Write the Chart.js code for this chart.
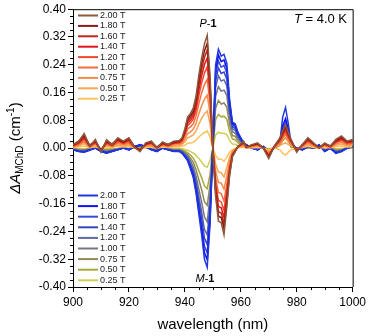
<!DOCTYPE html>
<html>
<head>
<meta charset="utf-8">
<script src="https://cdn.jsdelivr.net/npm/chart.js@4.4.1/dist/chart.umd.min.js"></script>
<style>
  html, body { margin: 0; padding: 0; background: #fff; }
  #chart { display: block; }
</style>
</head>
<body>
<canvas id="chart" width="369" height="336"></canvas>
<script>
// wavelength grid (nm)
const wavelengths = [
  900, 902, 904, 906, 908, 910, 912, 914, 916, 918,
  920, 922, 924, 926, 928, 930, 932, 934, 936, 938,
  939, 940, 941, 942, 943, 944, 945, 946, 947, 948,
  949, 950, 951, 952, 953, 954, 955, 956, 957, 958,
  959, 960, 961, 962, 964, 966, 968, 970, 972, 974,
  975, 976, 977, 978, 980, 982, 984, 986, 988, 990,
  992, 994, 996, 998, 1000
];

const fieldLabels = ['2.00 T', '1.80 T', '1.60 T', '1.40 T', '1.20 T', '1.00 T', '0.75 T', '0.50 T', '0.25 T'];

const xTicks = [900, 920, 940, 960, 980, 1000];
const yTicks = [-0.40, -0.32, -0.24, -0.16, -0.08, 0.00, 0.08, 0.16, 0.24, 0.32, 0.40];

// positive field spectra
const plus200 = [
  0.010, 0.020, 0.042, 0.005, 0.025, -0.012, 0.024, 0.010, 0.030, 0.020,
  0.030, 0.002, -0.010, 0.015, 0.020, 0.000, 0.018, 0.010, 0.020, 0.022,
  0.030, 0.055, 0.090, 0.100, 0.115, 0.150, 0.210, 0.260, 0.300, 0.325,
  0.210, 0.000, -0.140, -0.210, -0.215, -0.250, -0.170, -0.080, -0.025, -0.010,
  0.005, 0.012, 0.020, 0.002, 0.010, 0.015, 0.000, -0.030, 0.005, 0.030,
  0.050, 0.068, 0.045, 0.025, -0.012, 0.010, 0.030, 0.015, 0.000, 0.015,
  0.005, 0.025, 0.035, 0.020, 0.025
];
const plus180 = [
  0.009, 0.019, 0.036, 0.008, 0.022, -0.008, 0.020, 0.012, 0.026, 0.017,
  0.028, 0.004, -0.006, 0.012, 0.019, 0.002, 0.015, 0.011, 0.017, 0.020,
  0.027, 0.050, 0.083, 0.094, 0.106, 0.140, 0.196, 0.243, 0.280, 0.302,
  0.195, 0.000, -0.130, -0.196, -0.200, -0.232, -0.158, -0.074, -0.023, -0.008,
  0.006, 0.010, 0.018, 0.004, 0.009, 0.013, 0.002, -0.026, 0.006, 0.027,
  0.046, 0.063, 0.042, 0.022, -0.010, 0.010, 0.027, 0.013, 0.002, 0.013,
  0.006, 0.022, 0.031, 0.019, 0.022
];
const plus160 = [
  0.008, 0.016, 0.034, 0.006, 0.021, -0.008, 0.019, 0.008, 0.025, 0.018,
  0.025, 0.003, -0.007, 0.013, 0.016, 0.002, 0.015, 0.008, 0.018, 0.018,
  0.026, 0.048, 0.078, 0.087, 0.100, 0.131, 0.183, 0.226, 0.261, 0.283,
  0.183, 0.000, -0.122, -0.183, -0.187, -0.218, -0.148, -0.070, -0.022, -0.009,
  0.004, 0.011, 0.017, 0.003, 0.008, 0.012, 0.001, -0.024, 0.004, 0.026,
  0.043, 0.059, 0.039, 0.022, -0.008, 0.009, 0.025, 0.013, 0.001, 0.012,
  0.005, 0.021, 0.030, 0.017, 0.021
];
const plus140 = [
  0.007, 0.015, 0.030, 0.006, 0.018, -0.006, 0.017, 0.008, 0.023, 0.015,
  0.023, 0.003, -0.006, 0.011, 0.016, 0.001, 0.013, 0.008, 0.015, 0.017,
  0.024, 0.044, 0.072, 0.080, 0.092, 0.120, 0.168, 0.208, 0.240, 0.260,
  0.168, 0.000, -0.112, -0.168, -0.172, -0.200, -0.136, -0.064, -0.020, -0.008,
  0.004, 0.010, 0.016, 0.002, 0.008, 0.012, 0.001, -0.022, 0.004, 0.024,
  0.040, 0.054, 0.036, 0.020, -0.008, 0.008, 0.023, 0.012, 0.001, 0.012,
  0.004, 0.019, 0.027, 0.016, 0.019
];
const plus120 = [
  0.006, 0.013, 0.027, 0.005, 0.016, -0.006, 0.015, 0.007, 0.020, 0.014,
  0.020, 0.002, -0.005, 0.010, 0.014, 0.001, 0.012, 0.007, 0.014, 0.015,
  0.022, 0.040, 0.065, 0.072, 0.083, 0.108, 0.151, 0.187, 0.216, 0.234,
  0.151, 0.000, -0.101, -0.151, -0.155, -0.180, -0.122, -0.058, -0.018, -0.007,
  0.004, 0.009, 0.014, 0.002, 0.007, 0.011, 0.001, -0.020, 0.004, 0.022,
  0.036, 0.049, 0.032, 0.018, -0.007, 0.007, 0.021, 0.011, 0.001, 0.011,
  0.004, 0.017, 0.024, 0.014, 0.017
];
const plus100 = [
  0.005, 0.011, 0.022, 0.004, 0.014, -0.004, 0.012, 0.006, 0.017, 0.012,
  0.017, 0.002, -0.004, 0.009, 0.012, 0.001, 0.010, 0.006, 0.012, 0.013,
  0.018, 0.034, 0.055, 0.061, 0.070, 0.092, 0.128, 0.159, 0.183, 0.198,
  0.128, 0.000, -0.085, -0.128, -0.131, -0.153, -0.104, -0.049, -0.015, -0.006,
  0.003, 0.007, 0.012, 0.002, 0.006, 0.009, 0.001, -0.017, 0.003, 0.018,
  0.030, 0.041, 0.027, 0.015, -0.006, 0.006, 0.018, 0.009, 0.001, 0.009,
  0.003, 0.015, 0.021, 0.012, 0.015
];
const plus075 = [
  0.004, 0.009, 0.018, 0.003, 0.011, -0.004, 0.010, 0.005, 0.013, 0.009,
  0.013, 0.001, -0.004, 0.007, 0.009, 0.000, 0.008, 0.005, 0.009, 0.010,
  0.014, 0.026, 0.042, 0.047, 0.054, 0.071, 0.099, 0.122, 0.141, 0.153,
  0.099, 0.000, -0.066, -0.099, -0.101, -0.118, -0.080, -0.038, -0.012, -0.005,
  0.002, 0.006, 0.009, 0.001, 0.005, 0.007, 0.000, -0.013, 0.002, 0.013,
  0.022, 0.030, 0.020, 0.011, -0.005, 0.005, 0.014, 0.007, 0.000, 0.007,
  0.002, 0.012, 0.016, 0.009, 0.012
];
const plus050 = [
  0.003, 0.006, 0.013, 0.002, 0.008, -0.003, 0.007, 0.003, 0.009, 0.006,
  0.009, 0.001, -0.003, 0.005, 0.006, 0.000, 0.006, 0.003, 0.006, 0.007,
  0.010, 0.018, 0.030, 0.033, 0.038, 0.050, 0.069, 0.086, 0.099, 0.107,
  0.069, 0.000, -0.046, -0.069, -0.071, -0.083, -0.056, -0.026, -0.008, -0.003,
  0.002, 0.004, 0.006, 0.001, 0.003, 0.005, 0.000, -0.009, 0.002, 0.008,
  0.012, 0.015, 0.010, 0.007, -0.004, 0.003, 0.010, 0.005, 0.000, 0.005,
  0.002, 0.008, 0.011, 0.006, 0.008
];
const plus025 = [
  0.002, 0.003, 0.006, 0.001, 0.004, -0.002, 0.004, 0.002, 0.005, 0.003,
  0.005, 0.000, -0.002, 0.002, 0.003, 0.000, 0.003, 0.002, 0.003, 0.003,
  0.005, 0.008, 0.014, 0.015, 0.017, 0.023, 0.032, 0.039, 0.045, 0.049,
  0.032, 0.000, -0.021, -0.032, -0.032, -0.038, -0.026, -0.012, -0.004, -0.002,
  0.001, 0.002, 0.003, 0.000, 0.001, 0.002, 0.000, -0.005, 0.001, -0.005,
  -0.015, -0.020, -0.012, -0.004, -0.002, 0.002, 0.005, 0.002, 0.000, 0.002,
  0.001, 0.004, 0.005, 0.003, 0.004
];

// negative field spectra
const minus200 = [
  -0.005, -0.010, -0.012, -0.005, 0.000, -0.010, -0.015, -0.010, -0.005, 0.000,
  -0.005, 0.005, 0.010, 0.005, -0.005, -0.010, 0.000, -0.005, -0.010, -0.010,
  -0.015, -0.025, -0.037, -0.060, -0.085, -0.130, -0.190, -0.250, -0.320, -0.343,
  -0.220, 0.000, 0.240, 0.285, 0.265, 0.270, 0.245, 0.140, 0.075, 0.070,
  0.045, 0.030, 0.015, 0.010, 0.000, -0.005, 0.005, -0.010, 0.000, 0.020,
  0.090, 0.117, 0.070, 0.010, 0.000, -0.005, 0.005, 0.000, 0.010, -0.010,
  0.000, -0.015, -0.010, 0.000, 0.005
];
const minus180 = [
  -0.005, -0.009, -0.011, -0.006, 0.001, -0.009, -0.014, -0.009, -0.005, 0.001,
  -0.005, 0.004, 0.009, 0.005, -0.004, -0.009, 0.000, -0.005, -0.009, -0.009,
  -0.014, -0.024, -0.035, -0.056, -0.080, -0.122, -0.179, -0.235, -0.301, -0.322,
  -0.207, 0.000, 0.226, 0.268, 0.249, 0.254, 0.230, 0.132, 0.071, 0.066,
  0.042, 0.028, 0.014, 0.009, 0.000, -0.005, 0.005, -0.009, 0.000, 0.016,
  0.065, 0.085, 0.055, 0.010, 0.000, -0.005, 0.005, 0.000, 0.009, -0.009,
  0.000, -0.014, -0.009, 0.000, 0.005
];
const minus160 = [
  -0.004, -0.009, -0.010, -0.004, 0.000, -0.009, -0.013, -0.009, -0.004, 0.000,
  -0.004, 0.004, 0.009, 0.004, -0.004, -0.009, 0.000, -0.004, -0.009, -0.009,
  -0.013, -0.022, -0.033, -0.053, -0.075, -0.114, -0.167, -0.220, -0.282, -0.302,
  -0.194, 0.000, 0.211, 0.251, 0.233, 0.238, 0.216, 0.123, 0.066, 0.062,
  0.040, 0.026, 0.013, 0.009, 0.000, -0.004, 0.004, -0.009, 0.000, 0.015,
  0.058, 0.075, 0.048, 0.009, 0.000, -0.004, 0.004, 0.000, 0.009, -0.009,
  0.000, -0.013, -0.009, 0.000, 0.004
];
const minus140 = [
  -0.004, -0.008, -0.010, -0.004, 0.000, -0.008, -0.012, -0.008, -0.004, 0.000,
  -0.004, 0.004, 0.008, 0.004, -0.004, -0.008, 0.000, -0.004, -0.008, -0.008,
  -0.012, -0.020, -0.030, -0.049, -0.069, -0.105, -0.154, -0.203, -0.259, -0.278,
  -0.178, 0.000, 0.194, 0.231, 0.215, 0.219, 0.198, 0.113, 0.061, 0.057,
  0.036, 0.024, 0.012, 0.008, 0.000, -0.004, 0.004, -0.008, 0.000, 0.014,
  0.052, 0.068, 0.044, 0.008, 0.000, -0.004, 0.004, 0.000, 0.008, -0.008,
  0.000, -0.012, -0.008, 0.000, 0.004
];
const minus120 = [
  -0.004, -0.007, -0.009, -0.004, 0.000, -0.007, -0.011, -0.007, -0.004, 0.000,
  -0.004, 0.004, 0.007, 0.004, -0.004, -0.007, 0.000, -0.004, -0.007, -0.007,
  -0.011, -0.018, -0.027, -0.044, -0.062, -0.095, -0.139, -0.183, -0.234, -0.250,
  -0.161, 0.000, 0.175, 0.208, 0.193, 0.197, 0.179, 0.102, 0.055, 0.051,
  0.033, 0.022, 0.011, 0.007, 0.000, -0.004, 0.004, -0.007, 0.000, 0.012,
  0.046, 0.060, 0.040, 0.007, 0.000, -0.004, 0.004, 0.000, 0.007, -0.007,
  0.000, -0.011, -0.007, 0.000, 0.004
];
const minus100 = [
  -0.003, -0.006, -0.007, -0.003, 0.000, -0.006, -0.009, -0.006, -0.003, 0.000,
  -0.003, 0.003, 0.006, 0.003, -0.003, -0.006, 0.000, -0.003, -0.006, -0.006,
  -0.009, -0.016, -0.023, -0.037, -0.053, -0.081, -0.118, -0.155, -0.198, -0.213,
  -0.136, 0.000, 0.149, 0.177, 0.164, 0.167, 0.152, 0.087, 0.047, 0.043,
  0.028, 0.019, 0.009, 0.006, 0.000, -0.003, 0.003, -0.006, 0.000, 0.011,
  0.042, 0.055, 0.036, 0.006, 0.000, -0.003, 0.003, 0.000, 0.006, -0.006,
  0.000, -0.009, -0.006, 0.000, 0.003
];
const minus075 = [
  -0.002, -0.005, -0.006, -0.002, 0.000, -0.005, -0.007, -0.005, -0.002, 0.000,
  -0.002, 0.002, 0.005, 0.002, -0.002, -0.005, 0.000, -0.002, -0.005, -0.005,
  -0.007, -0.012, -0.018, -0.029, -0.041, -0.062, -0.091, -0.120, -0.154, -0.165,
  -0.106, 0.000, 0.115, 0.137, 0.127, 0.130, 0.118, 0.067, 0.036, 0.034,
  0.022, 0.014, 0.007, 0.005, 0.000, -0.002, 0.002, -0.005, 0.000, 0.010,
  0.038, 0.050, 0.032, 0.005, 0.000, -0.002, 0.002, 0.000, 0.005, -0.005,
  0.000, -0.007, -0.005, 0.000, 0.002
];
const minus050 = [
  -0.002, -0.003, -0.004, -0.002, 0.000, -0.003, -0.005, -0.003, -0.002, 0.000,
  -0.002, 0.002, 0.003, 0.002, -0.002, -0.003, 0.000, -0.002, -0.003, -0.003,
  -0.005, -0.009, -0.013, -0.020, -0.029, -0.044, -0.065, -0.085, -0.109, -0.117,
  -0.075, 0.000, 0.082, 0.097, 0.090, 0.092, 0.083, 0.048, 0.026, 0.024,
  0.015, 0.010, 0.005, 0.003, 0.000, -0.002, 0.002, -0.003, 0.000, 0.008,
  0.030, 0.040, 0.025, 0.003, 0.000, -0.002, 0.002, 0.000, 0.003, -0.003,
  0.000, -0.005, -0.003, 0.000, 0.002
];
const minus025 = [
  -0.001, -0.002, -0.002, -0.001, 0.000, -0.002, -0.002, -0.002, -0.001, 0.000,
  -0.001, 0.001, 0.002, 0.001, -0.001, -0.002, 0.000, -0.001, -0.002, -0.002,
  -0.002, -0.004, -0.006, -0.010, -0.014, -0.021, -0.030, -0.040, -0.051, -0.055,
  -0.035, 0.000, 0.038, 0.046, 0.042, 0.043, 0.039, 0.022, 0.012, 0.011,
  0.007, 0.005, 0.002, 0.002, 0.000, -0.001, 0.001, -0.002, 0.000, 0.006,
  0.022, 0.030, 0.018, 0.002, 0.000, -0.001, 0.001, 0.000, 0.002, -0.002,
  0.000, -0.002, -0.002, 0.000, 0.001
];

const plusSeries = [plus200, plus180, plus160, plus140, plus120, plus100, plus075, plus050, plus025];
const minusSeries = [minus200, minus180, minus160, minus140, minus120, minus100, minus075, minus050, minus025];

// colours
const plusColors = ['#8f5a3c', '#8a1a12', '#bb2a1e', '#e3161a', '#f0482c', '#f56c3c', '#f98a48', '#fba650', '#fdc35a'];
const minusColors = ['#2038dc', '#0c12f2', '#3848e0', '#3446c8', '#6068a8', '#767680', '#8c8a58', '#aaa840', '#d0cc58'];

const FONT = '"Liberation Sans", Arial, Helvetica, sans-serif';
Chart.defaults.font.family = FONT;
Chart.defaults.color = '#000';

function makeDataset(label, values, color) {
  return {
    label: label,
    data: wavelengths.map((w, i) => ({ x: w, y: values[i] })),
    borderColor: color,
    backgroundColor: color,
    borderWidth: 1.5,
    pointRadius: 0,
    fill: false,
    tension: 0
  };
}

const datasets = [];
plusSeries.forEach((s, i) => datasets.push(makeDataset(fieldLabels[i], s, plusColors[i])));
minusSeries.forEach((s, i) => datasets.push(makeDataset(fieldLabels[i], s, minusColors[i])));

// draw a row of text pieces with different fonts, centred on cx
function drawPieces(ctx, pieces, cx, cy) {
  let total = 0;
  pieces.forEach(p => { ctx.font = p.font; p.w = ctx.measureText(p.text).width; total += p.w; });
  let x = cx - total / 2;
  pieces.forEach(p => {
    ctx.font = p.font;
    ctx.fillText(p.text, x, cy + (p.dy || 0));
    x += p.w;
  });
}

// frame, minor ticks, legends, labels
const decorations = {
  id: 'decorations',
  afterDraw(chart) {
    const { ctx, chartArea: a, scales } = chart;
    const xs = scales.x, ys = scales.y;
    ctx.save();
    ctx.strokeStyle = '#000';
    ctx.lineWidth = 1;

    // top and right border
    ctx.beginPath();
    ctx.moveTo(a.left, a.top + 0.5);
    ctx.lineTo(a.right + 0.5, a.top + 0.5);
    ctx.lineTo(a.right + 0.5, a.bottom);
    ctx.stroke();

    // minor ticks
    ctx.beginPath();
    for (let v = 905; v < 1000; v += 5) {
      if (v % 20 === 0) continue;
      const px = Math.round(xs.getPixelForValue(v)) + 0.5;
      ctx.moveTo(px, a.bottom);
      ctx.lineTo(px, a.bottom + 3);
    }
    for (let k = -19; k < 20; k++) {
      if (k % 4 === 0) continue;
      const py = Math.round(ys.getPixelForValue(k * 0.02)) + 0.5;
      ctx.moveTo(a.left - 3, py);
      ctx.lineTo(a.left, py);
    }
    ctx.stroke();

    // legends
    ctx.font = '9px ' + FONT;
    ctx.textBaseline = 'middle';
    ctx.textAlign = 'left';
    const legendRows = (start, colors, gap) => {
      fieldLabels.forEach((lab, i) => {
        const y = start + i * gap;
        ctx.strokeStyle = colors[i];
        ctx.lineWidth = 2;
        ctx.beginPath();
        ctx.moveTo(78, y);
        ctx.lineTo(98, y);
        ctx.stroke();
        ctx.fillStyle = '#222';
        ctx.fillText(lab, 100, y);
      });
    };
    legendRows(15.5, plusColors, 10.4);
    legendRows(195.5, minusColors, 10.6);

    ctx.fillStyle = '#000';
    ctx.textBaseline = 'alphabetic';
    ctx.textAlign = 'left';

    // T = 4.0 K
    ctx.font = '13px ' + FONT;
    const rest = ' = 4.0 K';
    const wRest = ctx.measureText(rest).width;
    ctx.fillText(rest, 347 - wRest, 23);
    ctx.font = 'italic 13px ' + FONT;
    const wT = ctx.measureText('T').width;
    ctx.fillText('T', 347 - wRest - wT, 23);

    // P-1 and M-1
    drawPieces(ctx, [
      { text: 'P', font: 'italic 11px ' + FONT },
      { text: '-', font: '11px ' + FONT },
      { text: '1', font: 'bold 11px ' + FONT }
    ], 208, 27);
    drawPieces(ctx, [
      { text: 'M', font: 'italic 11px ' + FONT },
      { text: '-', font: '11px ' + FONT },
      { text: '1', font: 'bold 11px ' + FONT }
    ], 205, 282);

    // x axis title
    ctx.font = '15px ' + FONT;
    ctx.textAlign = 'center';
    ctx.fillText('wavelength (nm)', (a.left + a.right) / 2, 329);
    ctx.textAlign = 'left';

    // y axis title
    ctx.translate(20, (a.top + a.bottom) / 2);
    ctx.rotate(-Math.PI / 2);
    drawPieces(ctx, [
      { text: '\u0394A', font: 'italic 15px ' + FONT },
      { text: 'MChD', font: '10px ' + FONT, dy: 3 },
      { text: ' (cm', font: '15px ' + FONT },
      { text: '-1', font: '10px ' + FONT, dy: -6 },
      { text: ')', font: '15px ' + FONT }
    ], 0, 0);

    ctx.restore();
  }
};

new Chart(document.getElementById('chart'), {
  type: 'line',
  data: { datasets: datasets },
  options: {
    responsive: false,
    animation: false,
    events: [],
    layout: { padding: { top: 7, right: 15, left: 0, bottom: 0 } },
    plugins: {
      legend: { display: false },
      tooltip: { enabled: false }
    },
    scales: {
      x: {
        type: 'linear',
        min: 900,
        max: 1000,
        afterBuildTicks: s => { s.ticks = xTicks.map(v => ({ value: v })); },
        afterFit: s => { s.height = 49; },
        ticks: {
          font: { size: 12 },
          color: '#000',
          padding: 3,
          maxRotation: 0,
          callback: v => String(v)
        },
        grid: { drawOnChartArea: false, drawTicks: true, tickLength: 5, color: '#000', tickColor: '#000' },
        border: { display: true, color: '#000', width: 1 }
      },
      y: {
        type: 'linear',
        min: -0.4,
        max: 0.4,
        afterBuildTicks: s => { s.ticks = yTicks.map(v => ({ value: v })); },
        afterFit: s => { s.width = 73; },
        ticks: {
          font: { size: 12 },
          color: '#000',
          padding: 2,
          callback: v => v.toFixed(2)
        },
        grid: { drawOnChartArea: false, drawTicks: true, tickLength: 5, color: '#000', tickColor: '#000' },
        border: { display: true, color: '#000', width: 1 }
      }
    }
  },
  plugins: [decorations]
});
</script>
</body>
</html>
